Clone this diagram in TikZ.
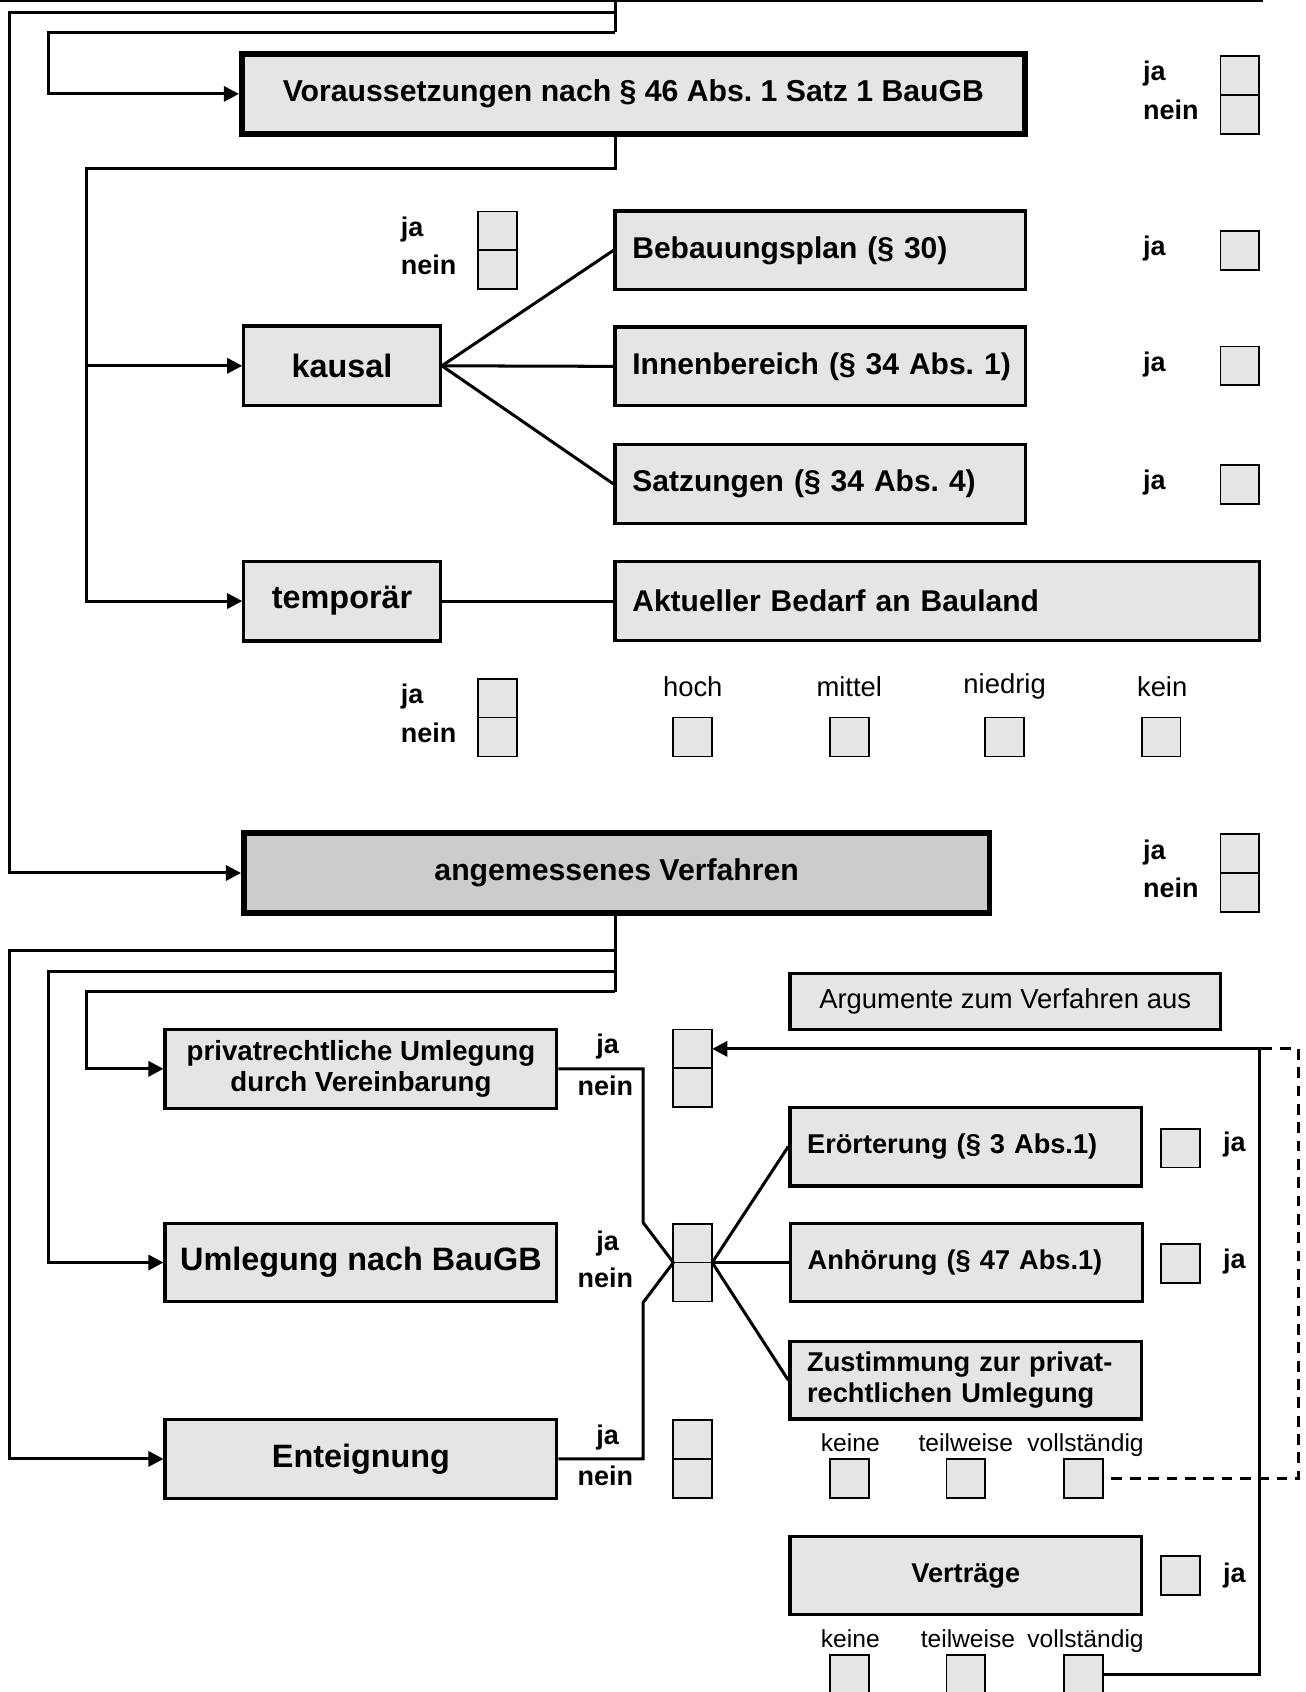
\documentclass[tikz,border=0pt]{standalone}
\usepackage{fontspec}
\setmainfont{Liberation Sans}
\frenchspacing
\usetikzlibrary{positioning,arrows.meta,calc}

\begin{document}
\begin{tikzpicture}[x=1pt,y=-1pt,>={Triangle[length=7pt,width=7pt]},line width=1.4pt]

\tikzstyle{box}=[draw,line width=1.5pt,fill=black!10,minimum height=36.5pt,inner sep=0pt,font=\fontsize{14}{16}\selectfont\bfseries]
\tikzstyle{main box}=[box,line width=2.6pt,minimum height=37pt]
\tikzstyle{left box}=[box,align=left,inner xsep=8pt,font=\fontsize{13.9}{16}\selectfont\bfseries]
\tikzstyle{big box}=[box,minimum height=37pt,font=\fontsize{15}{17}\selectfont\bfseries]
\tikzstyle{small box}=[box,font=\fontsize{12.6}{14.5}\selectfont\bfseries]
\tikzstyle{chk}=[draw,line width=0.8pt,fill=black!10,minimum size=18pt,inner sep=0pt,outer sep=0pt]
\tikzstyle{jn}=[font=\fontsize{12.5}{14}\selectfont\bfseries,inner sep=0pt,text height=9pt,text depth=2.5pt,anchor=west]
\tikzstyle{annot}=[font=\fontsize{12.7}{14}\selectfont,inner sep=0pt,anchor=base]
\tikzstyle{grade}=[font=\fontsize{11.4}{13}\selectfont,inner sep=0pt,anchor=base]

\useasboundingbox (0,0) rectangle (605,784);

\node[main box,minimum width=363pt] (vor) at (293.5,43.5) {Voraussetzungen nach § 46 Abs. 1 Satz 1 BauGB};
\node[chk] (vorja) at (574.5,35) {};
\node[chk,below=0pt of vorja] (vornein) {};
\node[jn] (vorjaL) at (529,34) {ja};
\node[jn] (vorneinL) at (529,52) {nein};

\node[big box,minimum width=91pt] (kausal) at (158.5,169.5) {kausal};
\node[chk] (kausja) at (230.5,107) {};
\node[chk,below=0pt of kausja] (kausnein) {};
\node[jn] (kausjaL) at (185,106.5) {ja};
\node[jn] (kausneinL) at (185,124) {nein};

\node[left box,text width=174pt] (bplan) at (380,116) {Bebauungsplan (§ 30)};
\node[left box,text width=174pt] (innen) at (380,169.75) {\mbox{Innenbereich (§ 34 Abs. 1)}};
\node[left box,text width=174pt] (satz) at (380,224.25) {Satzungen (§ 34 Abs. 4)};
\node[chk] (bplanja) at (574.5,116) {};
\node[chk] (innenja) at (574.5,169.5) {};
\node[chk] (satzja) at (574.5,224.5) {};
\node[jn] (bplanL) at (529,115) {ja};
\node[jn] (innenL) at (529,169) {ja};
\node[jn] (satzL) at (529,223.5) {ja};

\node[big box,minimum width=91pt] (temp) at (158.5,278.5) {temporär};
\node[left box,text width=282.5pt] (bedarf) at (434.25,278.5) {Aktueller Bedarf an Bauland};
\node[chk] (tempja) at (230.5,323.5) {};
\node[chk,below=0pt of tempja] (tempnein) {};
\node[jn] (tempjaL) at (185,322.5) {ja};
\node[jn] (tempneinL) at (185,341) {nein};

\node[annot] (hochL) at (321,322.5) {hoch};
\node[annot] (mittelL) at (393.5,322.5) {mittel};
\node[annot] (niedrigL) at (465.5,321.5) {niedrig};
\node[annot] (keinL) at (538.5,322.5) {kein};
\node[chk] (hoch) at (321,341.5) {};
\node[chk] (mittel) at (393.5,341.5) {};
\node[chk] (niedrig) at (465.5,341.5) {};
\node[chk] (kein) at (538,341.5) {};

\node[main box,fill=black!20,minimum width=345.5pt] (ang) at (285.75,404.5) {angemessenes Verfahren};
\node[chk] (angja) at (574.5,395.5) {};
\node[chk,below=0pt of angja] (angnein) {};
\node[jn] (angjaL) at (529,395) {ja};
\node[jn] (angneinL) at (529,412.5) {nein};

\node[small box,font=\fontsize{12.8}{14}\selectfont\bfseries,align=center,minimum width=181.5pt] (priv) at (167.25,495.25) {privatrechtliche Umlegung\\durch Vereinbarung};
\node[big box,minimum width=181.5pt,minimum height=36pt] (umleg) at (167.25,585) {Umlegung nach BauGB};
\node[big box,minimum width=181.5pt,minimum height=36.5pt] (ent) at (167.25,676) {Enteignung};

\node[chk] (privja) at (321,486) {};
\node[chk,below=0pt of privja] (privnein) {};
\node[chk] (umlja) at (321,576) {};
\node[chk,below=0pt of umlja] (umlnein) {};
\node[chk] (entja) at (321,667) {};
\node[chk,below=0pt of entja] (entnein) {};
\node[jn,anchor=center] (privjaL) at (281.5,485) {ja};
\node[jn,anchor=center] (privneinL) at (280.5,504.5) {nein};
\node[jn,anchor=center] (umljaL) at (281.5,576) {ja};
\node[jn,anchor=center] (umlneinL) at (280.5,593.5) {nein};
\node[jn,anchor=center] (entjaL) at (281.5,666) {ja};
\node[jn,anchor=center] (entneinL) at (280.5,685) {nein};

\node[box,font=\fontsize{12.7}{14}\selectfont,minimum width=199.5pt,minimum height=26pt] (argu) at (465.75,464) {Argumente zum Verfahren aus};

\node[small box,align=left,inner xsep=8pt,text width=147pt] (eroe) at (447.5,531.25) {Erörterung (§ 3 Abs.1)};
\node[small box,align=left,inner xsep=8pt,text width=147pt,minimum height=36pt] (anh) at (447.75,585) {Anhörung (§ 47 Abs.1)};
\node[small box,align=left,inner xsep=8pt,text width=147pt,minimum height=36pt] (zust) at (447.5,639.5) {Zustimmung zur privat-\\rechtlichen Umlegung};
\node[chk] (eroeja) at (547,532) {};
\node[chk] (anhja) at (547,585.5) {};
\node[jn] (eroeL) at (566,530.5) {ja};
\node[jn] (anhL) at (566,584.5) {ja};

\node[grade] (zkeineL) at (394,672.5) {keine};
\node[grade] (zteilL) at (447.5,672.5) {teilweise};
\node[grade] (zvollL) at (503,672.5) {vollständig};
\node[chk] (zkeine) at (393.5,685) {};
\node[chk] (zteil) at (447.5,685) {};
\node[chk] (zvoll) at (502,685) {};

\node[small box,minimum width=163pt,minimum height=36pt] (vert) at (447.5,730) {Verträge};
\node[chk] (vertja) at (547,730) {};
\node[jn] (vertL) at (566,730) {ja};

\node[grade] (vkeineL) at (394,763.5) {keine};
\node[grade] (vteilL) at (448.5,763.5) {teilweise};
\node[grade] (vvollL) at (503,763.5) {vollständig};
\node[chk] (vkeine) at (393.5,776) {};
\node[chk] (vteil) at (447.5,776) {};
\node[chk] (vvoll) at (502,776) {};

\coordinate (edgeL) at (0,0.6);
\coordinate (edgeR) at (585,0.6);
\coordinate (top) at (285,0);
\coordinate (t1) at (285,6);
\coordinate (t2) at (285,15);
\coordinate (laneA) at (4.5,6);
\coordinate (laneB) at (22.5,15);
\coordinate (laneC) at (40,78);
\coordinate (a1) at (285,440.5);
\coordinate (a2) at (285,450);
\coordinate (a3) at (285,459.5);
\coordinate (rturn) at (583.5,486);
\coordinate (dashR) at (601.5,486);

\draw[line width=1pt] (edgeL) -- (edgeR);
\draw (top) -- (t2);
\draw[->] (t1) -- (laneA) |- (ang.west);
\draw[->] (t2) -- (laneB) |- (vor.west);
\draw[->] (vor.south -| top) |- (laneC) |- (temp.west);
\draw[->] (laneC |- kausal.west) -- (kausal.west);

\draw (kausal.east) -- (bplan.west);
\draw (kausal.east) -- (innen.west);
\draw (kausal.east) -- (satz.west);
\draw (temp.east) -- (bedarf.west);

\draw (ang.south -| top) -- (a3);
\draw[->] (a1) -- (a1 -| laneA) |- (ent.west);
\draw[->] (a2) -- (a2 -| laneB) |- (umleg.west);
\draw[->] (a3) -- (a3 -| laneC) |- (priv.west);

\draw (priv.east) -| (298,566.5) -- (umlja.south west);
\draw (ent.east) -| (298,603.5) -- (umlja.south west);
\draw (umlja.south east) -- (eroe.west);
\draw (umlja.south east) -- (anh.west);
\draw (umlja.south east) -- (zust.west);

\draw[->] (vvoll.east) -| (rturn) -- (privja.east);
\draw[dash pattern=on 5pt off 3.5pt] ($(zvoll.east)+(4,0)$) -| (dashR) -- (rturn);

\end{tikzpicture}
\end{document}
